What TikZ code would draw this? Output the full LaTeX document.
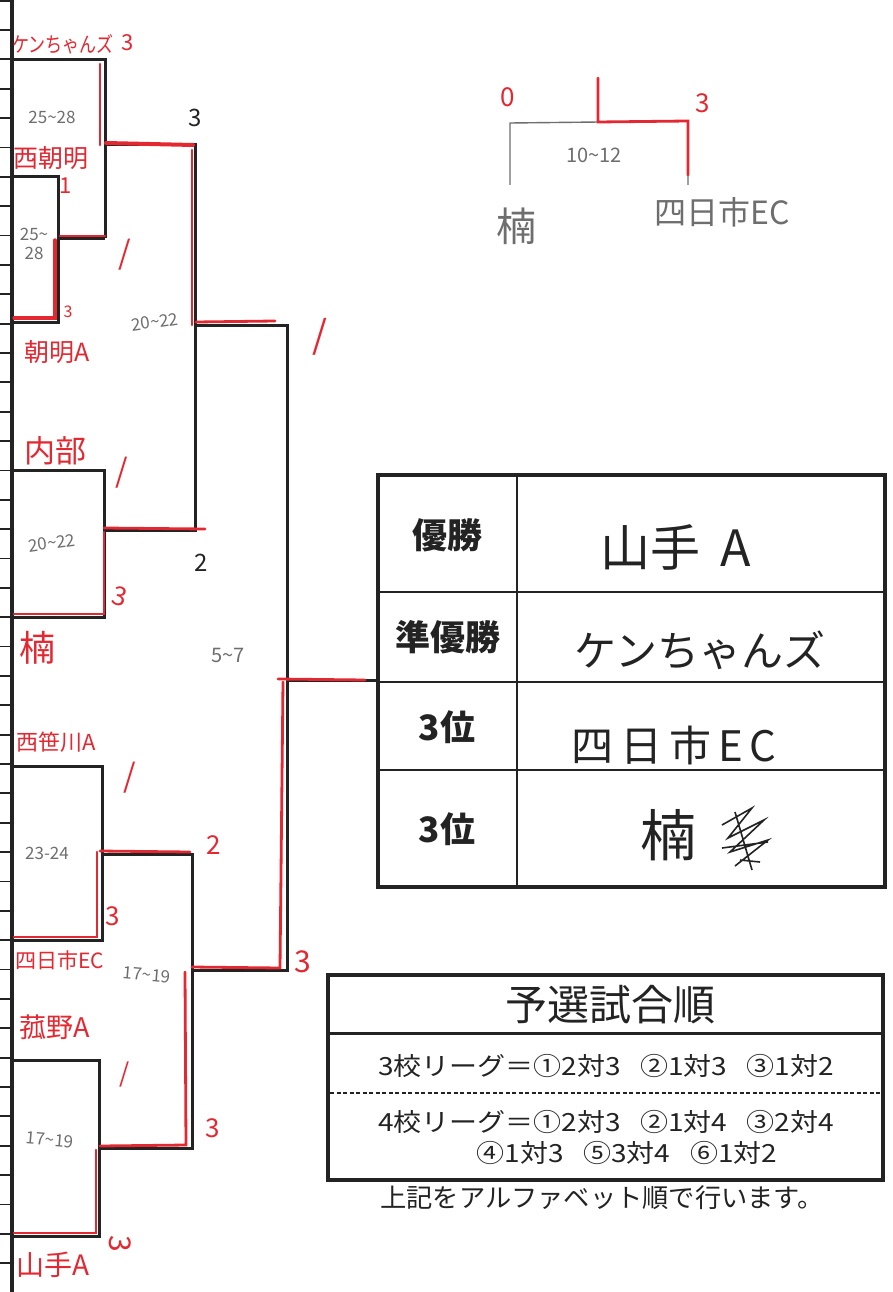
\documentclass[tikz,border=0pt]{standalone}
\usepackage{fontspec}
\newfontfamily\jp{Noto Sans CJK JP}
\newcommand\tld{\textasciitilde}
\definecolor{penred}{RGB}{228,40,50}
\definecolor{pencil}{RGB}{110,110,110}
\definecolor{ink}{RGB}{35,35,35}
\tikzset{
 brk/.style={line width=3pt, ink},
 win/.style={line width=2.8pt, penred, line cap=round},
 tickln/.style={line width=1.8pt, ink},
 hand/.style={text=penred, font=\jp\fontsize{20}{22}\selectfont, inner sep=0pt},
 score/.style={text=penred, font=\jp\fontsize{22}{24}\selectfont, inner sep=0pt},
 slash/.style={text=penred, font=\jp\fontsize{32}{34}\selectfont, inner sep=0pt},
 blk/.style={text=ink, font=\jp\fontsize{24}{26}\selectfont, inner sep=0pt},
 pen/.style={text=pencil, font=\jp\fontsize{17}{19}\selectfont, inner sep=0pt},
 lab/.style={text=ink, font=\jp\bfseries\fontsize{35}{40}\selectfont, inner sep=0pt},
 entry/.style={text=ink, font=\jp\fontsize{42}{46}\selectfont, inner sep=0pt},
 prt/.style={text=ink, font=\jp\fontsize{25}{28}\selectfont, inner sep=0pt, xscale=1.12, transform shape},
 footer/.style={text=ink, font=\jp\fontsize{26}{28}\selectfont, inner sep=0pt, xscale=1.01, transform shape},
}
\begin{document}
\begin{tikzpicture}[x=1pt,y=-1pt]
\useasboundingbox (0,0) rectangle (893,1292);
\fill[white] (0,0) rectangle (893,1292);

% left ruler
\draw[line width=3.2pt, ink] (12,0) -- (12,1292);
\foreach \k in {-1,...,42} \draw[tickln] (0,{30+29.36*\k}) -- (12,{30+29.36*\k});

% ---- bracket coordinates
\coordinate (kA) at (12,60);   \coordinate (kB) at (105,60);
\coordinate (nA) at (12,177);  \coordinate (nB) at (58,177);
\coordinate (aA) at (12,322);  \coordinate (aB) at (58,322);
\coordinate (m1) at (58,238);  \coordinate (m1r) at (105,238);
\coordinate (m2) at (105,145); \coordinate (m2r) at (195,145);
\coordinate (uA) at (12,470);  \coordinate (uB) at (104,470);
\coordinate (kuA) at (12,617); \coordinate (kuB) at (104,617);
\coordinate (m3) at (104,530); \coordinate (m3r) at (195,530);
\coordinate (m4) at (195,325); \coordinate (m4r) at (287,325);
\coordinate (sA) at (12,766);  \coordinate (sB) at (102,766);
\coordinate (yA) at (12,940);  \coordinate (yB) at (102,940);
\coordinate (m5) at (102,854); \coordinate (m5r) at (192,854);
\coordinate (oA) at (12,1060); \coordinate (oB) at (99,1060);
\coordinate (tA) at (12,1236); \coordinate (tB) at (99,1236);
\coordinate (m6) at (99,1148); \coordinate (m6r) at (192,1148);
\coordinate (m7) at (192,970); \coordinate (m7r) at (287,970);
\coordinate (fin) at (287,680); \coordinate (finr) at (378,680);

% ---- black bracket
\draw[brk] (nA) -- (nB) -- (aB) -- (aA);
\draw[brk] (m1) -- (m1r);
\draw[brk] (kA) -- (kB) -- (m1r);
\draw[brk] (m2) -- (m2r) -- (m3r) -- (m3);
\draw[brk] (uA) -- (uB) -- (kuB) -- (kuA);
\draw[brk] (m4) -- (m4r) -- (m7r) -- (m7);
\draw[brk] (sA) -- (sB) -- (yB) -- (yA);
\draw[brk] (m5) -- (m5r) -- (m6r) -- (m6);
\draw[brk] (oA) -- (oB) -- (tB) -- (tA);
\draw[brk] (fin) -- (finr);

% ---- red winning paths
\draw[win] (100,64) -- (100,145);
\draw[win, line width=4pt] (106,143) -- (193,145);
\draw[win] (192,150) -- (192,325);
\draw[win] (196,322) -- (275,321);
\draw[win, line width=3.5pt] (14,318) -- (55,318) -- (55,240);
\draw[win] (60,236) -- (105,236);
\draw[win] (14,614) -- (104,614) -- (104,532);
\draw[win] (104,528) -- (205,529);
\draw[win] (14,937) -- (97,937) -- (97,852);
\draw[win] (100,851) -- (190,852);
\draw[win] (14,1233) -- (96,1233) -- (96,1150);
\draw[win] (100,1146) -- (186,1145) -- (185,972);
\draw[win] (192,967) -- (280,968) -- (283,682);
\draw[win] (278,679) -- (365,680);

% ---- team names (red)
\node[hand, font=\jp\fontsize{17}{20}\selectfont, yscale=1.25, transform shape] (kenchan) at (63,44) {ケンちゃんズ};
\node[score] (sc1) at (128,43) {3};
\node[hand, font=\jp\fontsize{25}{27}\selectfont] (nishi) at (51,158) {西朝明};
\node[score] (sc2) at (66,186) {1};
\node[score, font=\jp\fontsize{16}{18}\selectfont] (sc3) at (68,312) {3};
\node[hand, font=\jp\fontsize{25}{27}\selectfont] (asake) at (57,352) {朝明A};
\node[slash] (sc4) at (125,255) {/};
\node[slash, font=\jp\fontsize{38}{40}\selectfont] (sc5) at (320,337) {/};
\node[hand, font=\jp\fontsize{31}{33}\selectfont] (naibu) at (55,451) {内部};
\node[slash] (sc6) at (122,473) {/};
\node[score, font=\jp\fontsize{26}{28}\selectfont, rotate=-15] (sc7) at (120,596) {3};
\node[hand, font=\jp\fontsize{36}{38}\selectfont] (kusu) at (37,648) {楠};
\node[hand, font=\jp\fontsize{22}{24}\selectfont] (sasa) at (56,742) {西笹川A};
\node[slash] (sc8) at (130,778) {/};
\node[score, font=\jp\fontsize{26}{28}\selectfont] (sc9) at (214,845) {2};
\node[score, font=\jp\fontsize{26}{28}\selectfont] (sc10) at (113,916) {3};
\node[hand, font=\jp\fontsize{21}{23}\selectfont] (yokka) at (60,960) {四日市EC};
\node[score, font=\jp\fontsize{30}{32}\selectfont] (sc11) at (303,962) {3};
\node[hand, font=\jp\fontsize{27}{29}\selectfont] (komo) at (55,1027) {菰野A};
\node[slash, font=\jp\fontsize{26}{28}\selectfont] (sc12) at (125,1074) {/};
\node[score, font=\jp\fontsize{26}{28}\selectfont] (sc13) at (213,1128) {3};
\node[hand, font=\jp\fontsize{28}{30}\selectfont] (yamate) at (53,1265) {山手A};
\node[score, font=\jp\fontsize{30}{32}\selectfont, rotate=-90] (sc14) at (120,1244) {3};

% ---- black scores
\node[blk] (b1) at (195,118) {3};
\node[blk] (b2) at (201,563) {2};

% ---- pencil times
\node[pen] (p1) at (52,117) {25\tld28};
\node[pen, align=center, font=\jp\fontsize{17}{19}\selectfont] (p2) at (34,244) {25\tld\\28};
\node[pen, rotate=8] (p3) at (155,322) {20\tld22};
\node[pen, rotate=8] (p4) at (52,543) {20\tld22};
\node[pen, font=\jp\fontsize{20}{22}\selectfont] (p5) at (228,655) {5\tld7};
\node[pen] (p6) at (47,853) {23-24};
\node[pen, rotate=-5] (p7) at (147,975) {17\tld19};
\node[pen, rotate=-5] (p8) at (50,1140) {17\tld19};

% ---- top-right third place match
\coordinate (tl) at (510,185); \coordinate (tlu) at (510,123);
\coordinate (tr) at (688,185); \coordinate (tru) at (688,121);
\coordinate (tc) at (598,122); \coordinate (tct) at (598,78);
\draw[pencil, line width=1.4pt] (tl) -- (tlu) -- (tru) -- (tr);
\draw[win] (tct) -- (tc) -- (tru) -- (688,175);
\node[score, font=\jp\fontsize{26}{28}\selectfont] (r0) at (508,97) {0};
\node[score, font=\jp\fontsize{26}{28}\selectfont] (r3) at (703,103) {3};
\node[pen, font=\jp\fontsize{20}{22}\selectfont] (p9) at (594,155) {10\tld12};
\node[pen, font=\jp\fontsize{40}{42}\selectfont] (p10) at (516,226) {楠};
\node[pen, font=\jp\fontsize{32}{34}\selectfont] (p11) at (722,212) {四日市EC};

% ---- results table
\draw[ink, line width=3.5pt] (378,475) rectangle (885,887);
\draw[ink, line width=2.2pt] (517,475) -- (517,887);
\draw[ink, line width=2.2pt] (378,592) -- (885,592);
\draw[ink, line width=2.2pt] (378,682) -- (885,682);
\draw[ink, line width=2.2pt] (378,770) -- (885,770);
\node[lab] (l1) at (447,535) {優勝};
\node[lab] (l2) at (448,637) {準優勝};
\node[lab] (l3) at (447,727) {3位};
\node[lab] (l4) at (447,829) {3位};
\node[entry, font=\jp\fontsize{50}{54}\selectfont] (e1) at (676,547) {山手\hspace{0.4em}A};
\node[entry] (e2) at (700,650) {ケンちゃんズ};
\node[entry] (e3) at (674,745) {四\,日\,市\,E\,C};
\node[entry, font=\jp\fontsize{56}{60}\selectfont] (e4) at (668,835) {楠};
\draw[ink, line width=1.6pt] (722,825) -- (752,808) -- (728,838) -- (764,820) -- (730,852) -- (768,840) -- (735,866)
  (735,812) -- (752,870) (722,848) -- (768,842) (740,860) -- (760,862);

% ---- preliminary order box
\draw[ink, line width=3.5pt] (328,975) rectangle (883,1180);
\draw[ink, line width=3pt] (328,1033) -- (883,1033);
\draw[ink, line width=1.4pt, dash pattern=on 4pt off 2.5pt] (330,1093) -- (881,1093);
\node[text=ink, font=\jp\fontsize{42}{46}\selectfont, inner sep=0pt] (ttl) at (610,1005) {予選試合順};
\node[prt] (q1) at (606,1066) {3校リーグ＝①2対3\hspace{0.7em}②1対3\hspace{0.7em}③1対2};
\node[prt] (q2) at (606,1122) {4校リーグ＝①2対3\hspace{0.7em}②1対4\hspace{0.7em}③2対4};
\node[prt] (q3) at (627,1153) {④1対3\hspace{0.7em}⑤3対4\hspace{0.7em}⑥1対2};
\node[footer] (foot) at (602,1198) {上記をアルファベット順で行います。};
\end{tikzpicture}
\end{document}
